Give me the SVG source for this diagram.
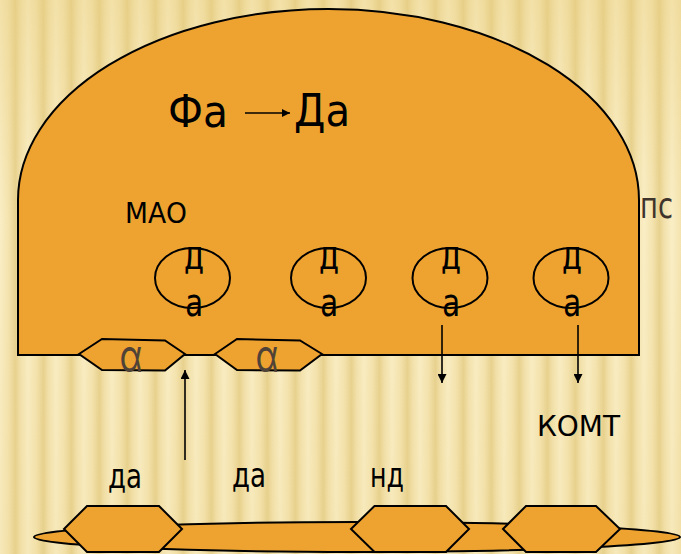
<svg xmlns="http://www.w3.org/2000/svg" width="681" height="554" viewBox="0 0 681 554">
  <defs>
    <!-- soft vertical stripes of the paper background -->
    <linearGradient id="stripe" x1="0" y1="0" x2="1" y2="0">
      <stop offset="0" stop-color="#fbf0ca"/>
      <stop offset="0.3" stop-color="#f5e5b3"/>
      <stop offset="0.55" stop-color="#e8d291"/>
      <stop offset="0.75" stop-color="#f4e4b2"/>
      <stop offset="1" stop-color="#fbf0ca"/>
    </linearGradient>
    <pattern id="paper" x="0" y="0" width="28" height="554" patternUnits="userSpaceOnUse">
      <rect width="28" height="554" fill="url(#stripe)"/>
    </pattern>
    <linearGradient id="tint" x1="0" y1="0" x2="0" y2="1">
      <stop offset="0" stop-color="#e6cb78" stop-opacity="0.4"/>
      <stop offset="0.4" stop-color="#e6cb78" stop-opacity="0.05"/>
      <stop offset="1" stop-color="#e6cb78" stop-opacity="0.2"/>
    </linearGradient>
    <marker id="head" viewBox="0 0 10 10" refX="10" refY="5" markerWidth="8" markerHeight="8" markerUnits="userSpaceOnUse" orient="auto">
      <path d="M0,0 L10,5 L0,10 Z" fill="#000"/>
    </marker>
    <marker id="headS" viewBox="0 0 10 10" refX="10" refY="5" markerWidth="9" markerHeight="9" markerUnits="userSpaceOnUse" orient="auto">
      <path d="M0,0 L10,5 L0,10 Z" fill="#000"/>
    </marker>
  </defs>
  <style>
    .body { fill: #eea330; stroke: #000; stroke-width: 2; }
    .hex { fill: #eea330; stroke: #000; stroke-width: 2; stroke-linejoin: miter; }
    .ves { fill: none; stroke: #000; stroke-width: 2; }
    .t { font-family: "DejaVu Sans", "Liberation Sans", sans-serif; font-stretch: condensed; fill: #000; }
    .m { font-family: "DejaVu Sans Mono", "Liberation Mono", monospace; fill: #000; text-anchor: middle; font-size: 30px; }
    .rc { font-family: Inter, "DejaVu Sans", sans-serif; fill: #504236; font-size: 46px; text-anchor: middle; }
    .ln { stroke: #000; stroke-width: 1.6; fill: none; }
  </style>

  <!-- background -->
  <rect width="681" height="554" fill="url(#paper)"/>
  <rect width="681" height="554" fill="url(#tint)"/>

  <!-- presynaptic terminal -->
  <g id="terminal">
    <path class="body" d="M18,355 L18,200 A310.5,191 0 0 1 639,200 L639,355 Z"/>
    <text class="t" x="168" y="127" font-size="45" textLength="60" lengthAdjust="spacingAndGlyphs">Фа</text>
    <text class="t" x="294" y="126" font-size="45" textLength="56" lengthAdjust="spacingAndGlyphs">Да</text>
    <text class="t" x="125" y="223" font-size="29" textLength="62" lengthAdjust="spacingAndGlyphs">МАО</text>
  </g>

  <text id="label-ps" class="t" x="640" y="218" font-size="36" style="fill:#3e342c" textLength="33" lengthAdjust="spacingAndGlyphs">пс</text>

  <!-- vesicles with dopamine -->
  <g id="vesicle-1">
    <ellipse class="ves" cx="192.5" cy="278" rx="37.5" ry="30"/>
    <text class="m" x="194" y="269">Д</text>
    <text class="m" transform="translate(194,316) scale(1,1.28)">а</text>
  </g>
  <g id="vesicle-2">
    <ellipse class="ves" cx="328.5" cy="278" rx="37.5" ry="30"/>
    <text class="m" x="329" y="269">Д</text>
    <text class="m" transform="translate(329,316) scale(1,1.28)">а</text>
  </g>
  <g id="vesicle-3">
    <ellipse class="ves" cx="450" cy="278" rx="37.5" ry="30"/>
    <text class="m" x="451" y="269">Д</text>
    <text class="m" transform="translate(451,316) scale(1,1.28)">а</text>
  </g>
  <g id="vesicle-4">
    <ellipse class="ves" cx="571" cy="278" rx="37.5" ry="30"/>
    <text class="m" x="572" y="269">Д</text>
    <text class="m" transform="translate(572,316) scale(1,1.28)">а</text>
  </g>

  <!-- presynaptic receptors -->
  <g id="receptor-pre-1">
    <polygon class="hex" points="79,354 102,339 165,340.5 185,354 165,370.5 102,370"/>
    <text class="rc" x="131" y="372" textLength="23" lengthAdjust="spacingAndGlyphs">α</text>
  </g>
  <g id="receptor-pre-2">
    <polygon class="hex" points="215,354 237,339 300,340.5 322,354 300,370.5 237,370"/>
    <text class="rc" x="267" y="372" textLength="23" lengthAdjust="spacingAndGlyphs">α</text>
  </g>

  <!-- postsynaptic membrane -->
  <g id="membrane">
    <ellipse class="body" cx="357" cy="537" rx="323" ry="15"/>
  </g>
  <g id="receptor-post-1">
    <polygon class="hex" points="64,529 87,506 159,506 182,529 159,552 87,552"/>
  </g>
  <g id="receptor-post-2">
    <polygon class="hex" points="351,529 374.5,506 446,506 469,529 446,552 374.5,552"/>
  </g>
  <g id="receptor-post-3">
    <polygon class="hex" points="503,529 526,506 596,506 620,529 596,552 526,552"/>
  </g>

  <!-- labels -->
  <text id="label-komt" class="t" x="537" y="436" font-size="28" textLength="83" lengthAdjust="spacingAndGlyphs">КОМТ</text>
  <text id="label-da-1" class="t" x="108" y="488" font-size="33" textLength="34" lengthAdjust="spacingAndGlyphs">да</text>
  <text id="label-da-2" class="t" x="232" y="487" font-size="33" textLength="34" lengthAdjust="spacingAndGlyphs">да</text>
  <text id="label-nd" class="t" x="370" y="487" font-size="33" textLength="34" lengthAdjust="spacingAndGlyphs">нд</text>

  <!-- connectors -->
  <g id="connectors">
    <line class="ln" x1="245" y1="113" x2="290" y2="113" marker-end="url(#head)"/>
    <line class="ln" x1="185" y1="460" x2="185" y2="370" marker-end="url(#headS)"/>
    <line class="ln" x1="442" y1="325" x2="442" y2="383" marker-end="url(#headS)"/>
    <line class="ln" x1="578" y1="325" x2="578" y2="383" marker-end="url(#headS)"/>
  </g>
</svg>
